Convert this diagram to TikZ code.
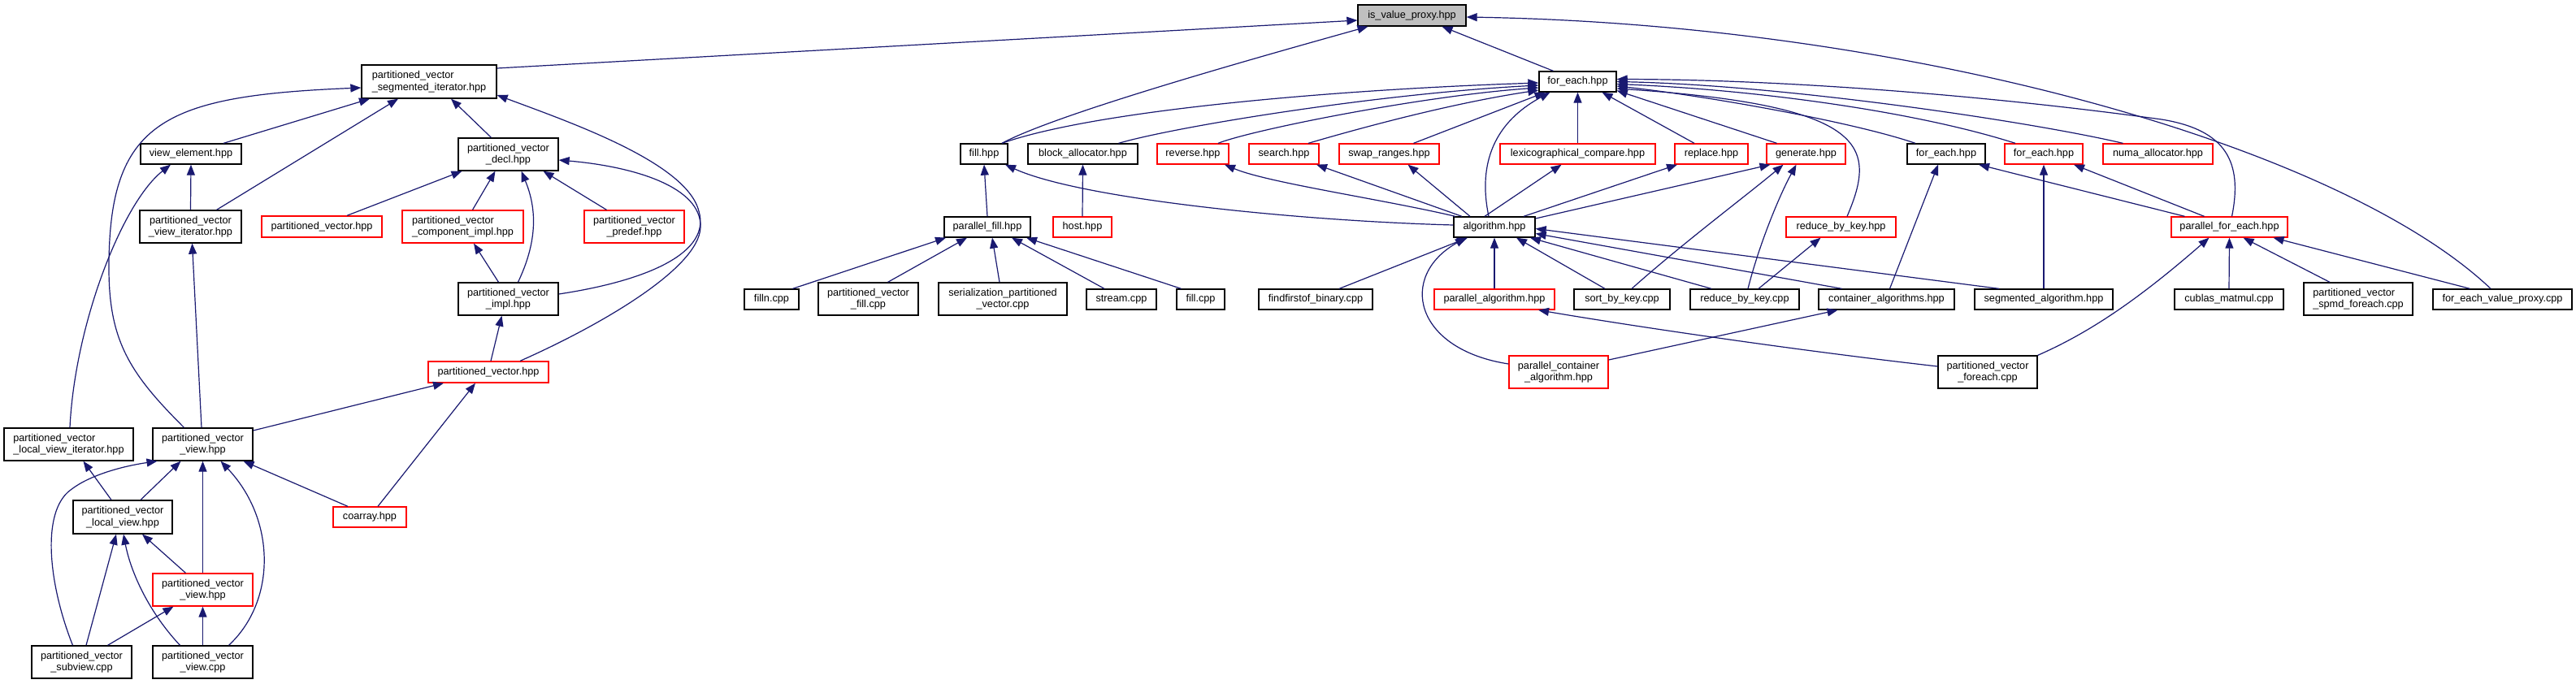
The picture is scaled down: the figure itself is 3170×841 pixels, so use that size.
\documentclass[tikz,border=0pt]{standalone}
\usepackage{fontspec}
\setmainfont{Liberation Sans}
\usetikzlibrary{arrows.meta}
\definecolor{edgecol}{HTML}{191970}
\definecolor{boxred}{HTML}{FF0000}
\definecolor{boxgray}{HTML}{BFBFBF}
\newcommand\nodefont{\fontsize{12.7}{14.5}\selectfont}
\begin{document}
\begin{tikzpicture}[x=1pt,y=-1pt,
  box/.style={draw=black, line width=1.3pt, fill=white, inner sep=0pt, font=\nodefont, text=black, align=center},
  rbox/.style={box, draw=boxred},
  dep/.style={draw=edgecol, line width=1.2pt, -{Triangle[length=13pt,width=10pt]}},
  sz/.style 2 args={minimum width=#1pt, minimum height=#2pt}]
\fill[white] (0,0) rectangle (3170,841);
\useasboundingbox (0,0) rectangle (3170,841);

% ---------------- nodes ----------------
\node[box,fill=boxgray,sz={133}{26}] (ivp) at (1737.5,19) {is\_value\_proxy.hpp};
\node[box,sz={166}{41},align=left] (pvsi) at (528,100.5) {partitioned\_vector\\\_segmented\_iterator.hpp};
\node[box,sz={124}{25}] (ve) at (235,189.5) {view\_element.hpp};
\node[box,sz={123}{40}] (pvdecl) at (625.5,190) {partitioned\_vector\\\_decl.hpp};
\node[box,sz={125}{40}] (pvvi) at (234.5,279) {partitioned\_vector\\\_view\_iterator.hpp};
\node[rbox,sz={148}{26}] (pv1) at (396,279) {partitioned\_vector.hpp};
\node[rbox,sz={149}{40},align=left] (pvci) at (569.5,279) {partitioned\_vector\\\_component\_impl.hpp};
\node[rbox,sz={123}{40}] (pvpre) at (780.5,279) {partitioned\_vector\\\_predef.hpp};
\node[box,sz={123}{40}] (pvimpl) at (625.5,368) {partitioned\_vector\\\_impl.hpp};
\node[rbox,sz={148}{26}] (pv2) at (601,458) {partitioned\_vector.hpp};
\node[box,sz={159}{40},align=left] (pvlvi) at (84.5,547) {partitioned\_vector\\\_local\_view\_iterator.hpp};
\node[box,sz={123}{40}] (pvview) at (249.5,547) {partitioned\_vector\\\_view.hpp};
\node[box,sz={122}{41}] (pvlv) at (151,636.5) {partitioned\_vector\\\_local\_view.hpp};
\node[rbox,sz={90}{25}] (coarray) at (455,636.5) {coarray.hpp};
\node[rbox,sz={123}{40}] (pvview2) at (249.5,726) {partitioned\_vector\\\_view.hpp};
\node[box,sz={123}{40}] (pvsub) at (100.5,815) {partitioned\_vector\\\_subview.cpp};
\node[box,sz={123}{40}] (pvviewcpp) at (249.5,815) {partitioned\_vector\\\_view.cpp};

\node[box,sz={58}{25}] (fillh) at (1211,189.5) {fill.hpp};
\node[box,sz={135}{25}] (balloc) at (1332.5,189.5) {block\_allocator.hpp};
\node[rbox,sz={88}{25}] (reverse) at (1468,189.5) {reverse.hpp};
\node[rbox,sz={86}{25}] (search) at (1580,189.5) {search.hpp};
\node[rbox,sz={123}{25}] (swapr) at (1709.5,189.5) {swap\_ranges.hpp};
\node[rbox,sz={191}{25}] (lexi) at (1941.5,189.5) {lexicographical\_compare.hpp};
\node[rbox,sz={90}{25}] (replace) at (2106,189.5) {replace.hpp};
\node[rbox,sz={97}{25}] (generate) at (2222.5,189.5) {generate.hpp};
\node[box,sz={96}{25}] (fe2) at (2395,189.5) {for\_each.hpp};
\node[rbox,sz={96}{25}] (fe3) at (2515,189.5) {for\_each.hpp};
\node[rbox,sz={135}{25}] (numa) at (2655.5,189.5) {numa\_allocator.hpp};
\node[box,sz={95}{25}] (fe1) at (1941.5,100.5) {for\_each.hpp};

\node[box,sz={106}{25}] (pfill) at (1215,279.5) {parallel\_fill.hpp};
\node[rbox,sz={72}{25}] (host) at (1332,279.5) {host.hpp};
\node[box,sz={100}{25}] (algo) at (1839,279.5) {algorithm.hpp};
\node[rbox,sz={135}{25}] (rbkh) at (2265.5,279.5) {reduce\_by\_key.hpp};
\node[rbox,sz={143}{25}] (pfe) at (2743.5,279.5) {parallel\_for\_each.hpp};

\node[box,sz={67}{25}] (filln) at (949.5,368.5) {filln.cpp};
\node[box,sz={123}{40}] (pvfill) at (1068.5,368) {partitioned\_vector\\\_fill.cpp};
\node[box,sz={158}{40}] (serial) at (1234,368) {serialization\_partitioned\\\_vector.cpp};
\node[box,sz={86}{25}] (stream) at (1380,368.5) {stream.cpp};
\node[box,sz={59}{25}] (fillcpp) at (1477.5,368.5) {fill.cpp};
\node[box,sz={140}{25}] (ffob) at (1619,368.5) {findfirstof\_binary.cpp};
\node[rbox,sz={148}{25}] (palgo) at (1839,368.5) {parallel\_algorithm.hpp};
\node[box,sz={118}{25}] (sbk) at (1996,368.5) {sort\_by\_key.cpp};
\node[box,sz={134}{25}] (rbkc) at (2147,368.5) {reduce\_by\_key.cpp};
\node[box,sz={167}{25}] (contalg) at (2321.5,368.5) {container\_algorithms.hpp};
\node[box,sz={170}{25}] (segalg) at (2515,368.5) {segmented\_algorithm.hpp};
\node[box,sz={134}{25}] (cublas) at (2743,368.5) {cublas\_matmul.cpp};
\node[box,sz={134}{40},align=left] (spmd) at (2902,368) {partitioned\_vector\\\_spmd\_foreach.cpp};
\node[box,sz={171}{25}] (fevp) at (3079.5,368.5) {for\_each\_value\_proxy.cpp};
\node[rbox,sz={122}{40}] (pca) at (1918,458) {parallel\_container\\\_algorithm.hpp};
\node[box,sz={122}{40}] (pvfe) at (2446,458) {partitioned\_vector\\\_foreach.cpp};

% ---------------- edges (child -> parent) ----------------
% into is_value_proxy
\draw[dep] ([yshift=16.5pt]pvsi.east) -- ([yshift=-6pt]ivp.west);
\draw[dep] ([xshift=22pt]fillh.north) .. controls (1300,140) and (1550,70) .. ([xshift=-54pt]ivp.south);
\draw[dep] ([xshift=-30pt]fe1.north) -- ([xshift=37pt]ivp.south);
\draw[dep] ([xshift=-14.5pt]fevp.north) .. controls (2880,180) and (2350,30) .. ([yshift=-2pt]ivp.east);

% left cluster
\draw[dep] ([xshift=40pt]ve.north) -- ([xshift=-73pt]pvsi.south);
\draw[dep] ([xshift=32pt]pvvi.north) -- ([xshift=-38pt]pvsi.south);
\draw[dep] ([xshift=-21pt]pvdecl.north) -- ([xshift=27pt]pvsi.south);
\draw[dep] ([xshift=-23pt]pvview.north) .. controls (160,460) and (134,420) .. (134,330) .. controls (134,150) and (200,118) .. ([yshift=-7.5pt]pvsi.west);
\draw[dep] ([xshift=1.5pt]pvlvi.north) .. controls (92,400) and (150,250) .. ([xshift=-25pt]ve.south);
\draw[dep] (pvvi.north) -- (ve.south);
\draw[dep] ([xshift=-1.5pt]pvview.north) -- ([xshift=2pt]pvvi.south);
\draw[dep] ([yshift=6pt]pvimpl.east) .. controls (800,345) and (875,310) .. (860,260) .. controls (845,200) and (700,150) .. ([yshift=-16.5pt]pvsi.east);
\draw[dep] ([xshift=39pt]pv2.north) .. controls (740,400) and (860,330) .. (862,280) .. controls (864,230) and (780,205) .. ([yshift=-7pt]pvdecl.east);
\draw[dep] ([xshift=31pt]pv1.north) -- ([xshift=-57pt]pvdecl.south);
\draw[dep] ([xshift=12pt]pvci.north) -- ([xshift=-16pt]pvdecl.south);
\draw[dep] ([xshift=12pt]pvimpl.north) .. controls (660,300) and (662,260) .. ([xshift=16pt]pvdecl.south);
\draw[dep] ([xshift=-34pt]pvpre.north) -- ([xshift=43pt]pvdecl.south);
\draw[dep] ([xshift=-12pt]pvimpl.north) -- ([xshift=13.5pt]pvci.south);
\draw[dep] ([xshift=3pt]pv2.north) -- ([xshift=-8pt]pvimpl.south);
\draw[dep] ([yshift=17pt]pvview.east) -- ([xshift=-55pt]pv2.south);
\draw[dep] ([xshift=10pt]coarray.north) -- ([xshift=-16pt]pv2.south);
\draw[dep] ([xshift=22pt]pvlv.north) -- ([xshift=-27pt]pvview.south);
\draw[dep] (pvview2.north) -- (pvview.south);
\draw[dep] ([xshift=-27pt]coarray.north) -- ([xshift=50pt]pvview.south);
\draw[dep] ([xshift=-11pt]pvsub.north) .. controls (60,720) and (50,630) .. (87,603) .. controls (110,585) and (150,574) .. ([xshift=-56pt]pvview.south);
\draw[dep] ([xshift=32pt]pvviewcpp.north) .. controls (340,740) and (340,640) .. ([xshift=22pt]pvview.south);
\draw[dep] ([xshift=-14pt]pvlv.north) -- ([xshift=18pt]pvlvi.south);
\draw[dep] ([xshift=5.5pt]pvsub.north) -- ([xshift=-8pt]pvlv.south);
\draw[dep] ([xshift=-28pt]pvviewcpp.north) .. controls (180,750) and (160,700) .. ([xshift=1pt]pvlv.south);
\draw[dep] ([xshift=-21pt]pvview2.north) -- ([xshift=24pt]pvlv.south);
\draw[dep] ([xshift=32pt]pvsub.north) -- ([xshift=-36pt]pvview2.south);
\draw[dep] (pvviewcpp.north) -- (pvview2.south);

% fill cluster
\draw[dep] (pfill.north) -- (fillh.south);
\draw[dep] ([yshift=2.5pt]algo.west) .. controls (1600,272) and (1330,245) .. ([xshift=26pt]fillh.south);
\draw[dep] (host.north) -- (balloc.south);
\draw[dep] ([xshift=26pt]filln.north) -- ([xshift=-51pt]pfill.south);
\draw[dep] ([xshift=24pt]pvfill.north) -- ([xshift=-25pt]pfill.south);
\draw[dep] ([xshift=-4pt]serial.north) -- ([xshift=6pt]pfill.south);
\draw[dep] ([xshift=-21pt]stream.north) -- ([xshift=30pt]pfill.south);
\draw[dep] ([xshift=-24pt]fillcpp.north) -- ([xshift=48pt]pfill.south);

% into for_each (top)
\draw[dep] ([xshift=22pt]fillh.north) .. controls (1350,135) and (1650,110) .. ([yshift=-1.5pt]fe1.west);
\draw[dep] ([xshift=44pt]balloc.north) .. controls (1450,155) and (1700,115) .. ([yshift=-4.5pt]fe1.west);
\draw[dep] ([xshift=31pt]reverse.north) .. controls (1540,160) and (1750,118) .. ([yshift=-7.5pt]fe1.west);
\draw[dep] ([xshift=30pt]search.north) .. controls (1700,150) and (1800,125) .. ([yshift=-10.5pt]fe1.west);
\draw[dep] ([xshift=30pt]swapr.north) -- ([xshift=-40pt]fe1.south);
\draw[dep] ([xshift=-7pt]algo.north) .. controls (1818,200) and (1840,150) .. ([xshift=-34pt]fe1.south);
\draw[dep] (lexi.north) -- (fe1.south);
\draw[dep] ([xshift=-21pt]replace.north) -- ([xshift=30pt]fe1.south);
\draw[dep] ([xshift=-36pt]generate.north) -- ([yshift=-11pt]fe1.east);
\draw[dep] ([xshift=7.5pt]rbkh.north) .. controls (2310,180) and (2300,130) .. ([yshift=-8.5pt]fe1.east);
\draw[dep] ([xshift=-38pt]fe2.north) .. controls (2280,150) and (2100,118) .. ([yshift=-5.5pt]fe1.east);
\draw[dep] ([xshift=-35pt]fe3.north) .. controls (2350,135) and (2150,110) .. ([yshift=-3pt]fe1.east);
\draw[dep] ([xshift=-43pt]numa.north) .. controls (2500,150) and (2200,105) .. (fe1.east);
\draw[dep] ([xshift=3pt]pfe.north) .. controls (2760,200) and (2740,160) .. (2660,147) .. controls (2450,118) and (2200,98) .. ([yshift=3pt]fe1.east);

% algorithm.hpp includes
\draw[dep] ([xshift=-48pt]algo.north) .. controls (1700,245) and (1560,225) .. ([xshift=39pt]reverse.south);
\draw[dep] ([xshift=-40pt]algo.north) -- ([xshift=40pt]search.south);
\draw[dep] ([xshift=-30pt]algo.north) -- ([xshift=23pt]swapr.south);
\draw[dep] ([xshift=-12pt]algo.north) -- ([xshift=-20pt]lexi.south);
\draw[dep] ([xshift=36pt]algo.north) -- ([xshift=-42pt]replace.south);
\draw[dep] ([yshift=10.5pt]algo.east) -- ([xshift=-44pt]generate.south);

% into algorithm.hpp
\draw[dep] ([xshift=29pt]ffob.north) -- ([xshift=-33pt]algo.south);
\draw[dep] (palgo.north) -- (algo.south);
\draw[dep] ([yshift=10pt]pca.west) .. controls (1740,430) and (1720,340) .. ([xshift=-35pt]algo.south);
\draw[dep] ([xshift=-21pt]sbk.north) -- ([xshift=27pt]algo.south);
\draw[dep] ([xshift=-41pt]rbkc.north) -- ([xshift=44pt]algo.south);
\draw[dep] ([xshift=-55pt]contalg.north) -- ([yshift=-8pt]algo.east);
\draw[dep] ([xshift=-55pt]segalg.north) -- ([yshift=-2pt]algo.east);

% generate / reduce_by_key
\draw[dep] ([xshift=12pt]sbk.north) .. controls (2070,300) and (2150,240) .. ([xshift=-28pt]generate.south);
\draw[dep] ([xshift=4pt]rbkc.north) .. controls (2165,300) and (2190,240) .. ([xshift=-12pt]generate.south);
\draw[dep] ([xshift=17pt]rbkc.north) -- ([xshift=-25pt]rbkh.south);

% for_each.hpp (2), (3)
\draw[dep] ([xshift=4pt]contalg.north) -- ([xshift=-10pt]fe2.south);
\draw[dep] ([xshift=-55pt]pfe.north) -- ([xshift=40pt]fe2.south);
\draw[dep] (segalg.north) -- (fe3.south);
\draw[dep] ([xshift=-31pt]pfe.north) -- ([xshift=37pt]fe3.south);

% parallel_for_each.hpp
\draw[dep] (pvfe.north east) .. controls (2570,410) and (2630,370) .. ([xshift=-25pt]pfe.south);
\draw[dep] (cublas.north) -- (pfe.south);
\draw[dep] ([xshift=-35pt]spmd.north) -- ([xshift=17pt]pfe.south);
\draw[dep] ([xshift=-40pt]fevp.north) -- ([xshift=54pt]pfe.south);

% bottom row
\draw[dep] ([yshift=15pt]pca.east) -- ([xshift=-60pt]contalg.south);
\draw[dep] ([yshift=7pt]pvfe.west) .. controls (2200,430) and (2000,400) .. ([xshift=54pt]palgo.south);
\end{tikzpicture}
\end{document}
